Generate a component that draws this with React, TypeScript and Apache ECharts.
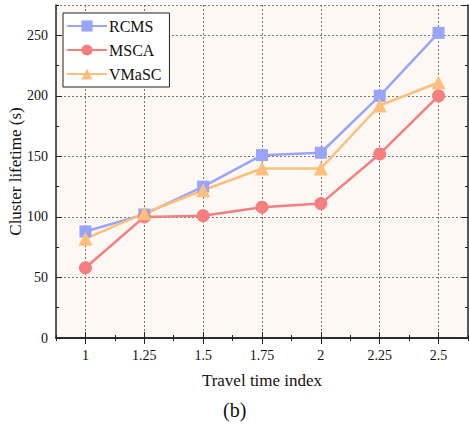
import React, { useEffect, useRef } from "react";
import * as echarts from "echarts";

const categories = ["1", "1.25", "1.5", "1.75", "2", "2.25", "2.5"];
const rcms = [88, 102, 125, 151, 153, 200, 252];
const msca = [58, 100, 101, 108, 111, 152, 200];
const vmasc = [82, 103, 122, 140, 140, 192, 211];
const seriesNames = ["RCMS", "MSCA", "VMaSC"];
const colors = ["#98a5fb", "#f57f7f", "#fdbf7d"];

const FONT = "'Liberation Serif', 'Times New Roman', serif";

export default function App() {
  const ref = useRef<HTMLDivElement>(null);
  useEffect(() => {
    if (!ref.current) return;
    const chart = echarts.init(ref.current, null, { renderer: "svg" });
    const axisLineStyle = { color: "#222", width: 1.5 };
    const yBase = { type: "value", min: 0, max: 275 };
    chart.setOption({
      animation: false,
      grid: {
        left: 56,
        top: 5,
        right: 1,
        bottom: 89,
        show: true,
        backgroundColor: "#fdf8f3",
        borderWidth: 0,
        containLabel: false,
        outerBoundsMode: "none",
      },
      legend: {
        orient: "vertical",
        left: 63,
        top: 13,
        itemWidth: 40,
        itemHeight: 14,
        itemGap: 8,
        padding: [5, 8, 5, 3],
        backgroundColor: "#fff",
        borderColor: "#222",
        borderWidth: 1,
        borderRadius: 0,
        textStyle: { fontFamily: FONT, fontSize: 16, color: "#111", padding: [0, 0, 0, -3] },
        data: seriesNames,
      },
      xAxis: [
        {
          type: "category",
          data: categories,
          position: "bottom",
          boundaryGap: true,
          name: "Travel time index",
          nameLocation: "middle",
          nameGap: 34,
          nameMoveOverlap: false,
          nameTextStyle: { fontFamily: FONT, fontSize: 17, color: "#111" },
          axisLine: { show: true, lineStyle: axisLineStyle },
          axisTick: { show: true, inside: true, alignWithLabel: true, length: 6, lineStyle: { color: "#222" } },
          axisLabel: { fontFamily: FONT, fontSize: 14, color: "#111", margin: 10, interval: 0 },
          splitLine: {
            show: true,
            alignWithLabel: true,
            interval: 0,
            lineStyle: { color: "#777", type: [2, 2], width: 1 },
          },
        },
        {
          type: "category",
          data: categories,
          position: "bottom",
          boundaryGap: true,
          axisLine: { show: false },
          axisTick: { show: true, inside: true, alignWithLabel: false, length: 3, interval: 0, lineStyle: { color: "#222" } },
          axisLabel: { show: false },
          splitLine: { show: false },
        },
        {
          type: "category",
          data: categories,
          position: "top",
          boundaryGap: true,
          axisLine: { show: true, lineStyle: axisLineStyle },
          axisTick: { show: true, inside: true, alignWithLabel: true, length: 6, lineStyle: { color: "#222" } },
          axisLabel: { show: false },
          splitLine: { show: false },
        },
        {
          type: "category",
          data: categories,
          position: "top",
          boundaryGap: true,
          axisLine: { show: false },
          axisTick: { show: true, inside: true, alignWithLabel: false, length: 3, interval: 0, lineStyle: { color: "#222" } },
          axisLabel: { show: false },
          splitLine: { show: false },
        },
      ],
      yAxis: [
        {
          ...yBase,
          interval: 50,
          position: "left",
          name: "Cluster lifetime (s)",
          nameLocation: "middle",
          nameGap: 32,
          nameMoveOverlap: false,
          nameTextStyle: { fontFamily: FONT, fontSize: 17, color: "#111" },
          axisLine: { show: true, lineStyle: axisLineStyle },
          axisTick: { show: true, inside: true, length: 6, lineStyle: { color: "#222" } },
          axisLabel: { fontFamily: FONT, fontSize: 14, color: "#111", margin: 8, showMaxLabel: false },
          splitLine: { show: true, lineStyle: { color: "#777", type: [2, 2], width: 1 } },
        },
        {
          ...yBase,
          interval: 25,
          position: "left",
          axisLine: { show: false },
          axisTick: { show: true, inside: true, length: 3, lineStyle: { color: "#222" } },
          axisLabel: { show: false },
          splitLine: { show: false },
        },
        {
          ...yBase,
          interval: 50,
          position: "right",
          axisLine: { show: true, lineStyle: axisLineStyle },
          axisTick: { show: true, inside: true, length: 6, lineStyle: { color: "#222" } },
          axisLabel: { show: false },
          splitLine: { show: false },
        },
        {
          ...yBase,
          interval: 25,
          position: "right",
          axisLine: { show: false },
          axisTick: { show: true, inside: true, length: 3, lineStyle: { color: "#222" } },
          axisLabel: { show: false },
          splitLine: { show: false },
        },
      ],
      series: [
        { name: seriesNames[0], data: rcms, symbol: "rect", symbolSize: 12, color: colors[0] },
        { name: seriesNames[1], data: msca, symbol: "circle", symbolSize: 13, color: colors[1] },
        { name: seriesNames[2], data: vmasc, symbol: "triangle", symbolSize: 14, color: colors[2] },
      ].map((s) => ({
        ...s,
        type: "line",
        xAxisIndex: 0,
        yAxisIndex: 0,
        lineStyle: { width: 2.5, color: s.color },
        itemStyle: { color: s.color },
        z: 3,
      })),
      graphic: [
        {
          type: "text",
          left: 223,
          top: 400,
          style: { text: "(b)", fontFamily: FONT, fontSize: 20, fill: "#111" },
        },
      ],
    });
    return () => chart.dispose();
  }, []);
  return <div ref={ref} style={{ width: 469, height: 427, position: "absolute", left: 0, top: 0 }} />;
}
